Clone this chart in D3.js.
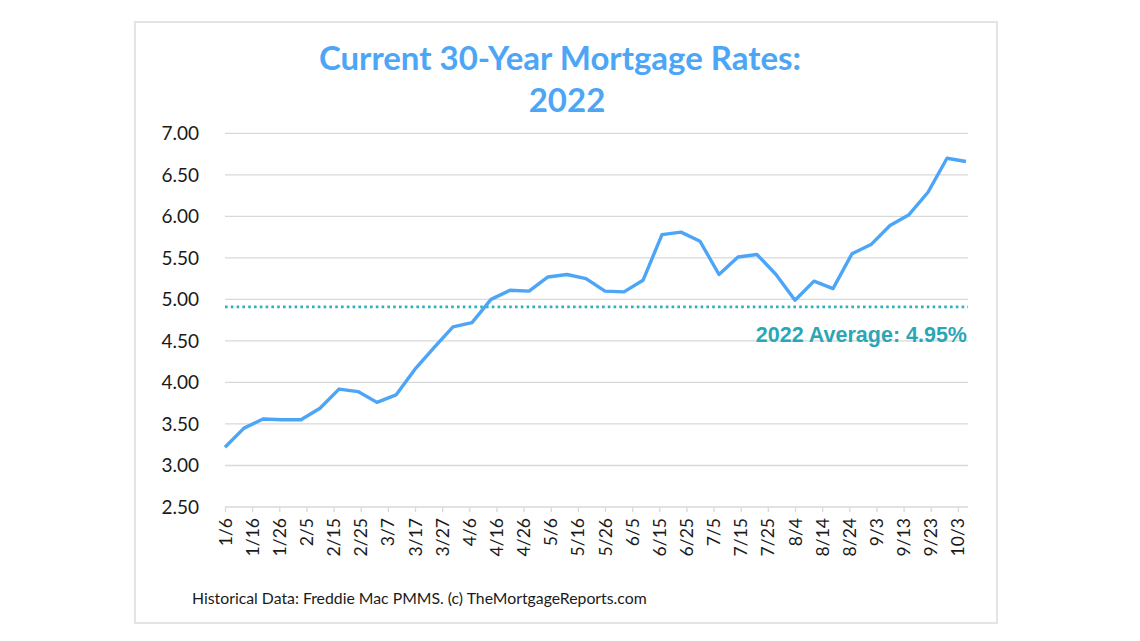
<!DOCTYPE html>
<html>
<head>
<meta charset="utf-8">
<script src="https://cdn.jsdelivr.net/npm/d3@7"></script>
<style>
  body { margin: 0; background: #fff; }
  svg { display: block; }
</style>
</head>
<body>
<svg id="chart" width="1140" height="641"></svg>
<script>
// weekly Freddie Mac PMMS readings, 2022
const weeks = ["2022-01-06","2022-01-13","2022-01-20","2022-01-27","2022-02-03","2022-02-10",
  "2022-02-17","2022-02-24","2022-03-03","2022-03-10","2022-03-17","2022-03-24","2022-03-31",
  "2022-04-07","2022-04-14","2022-04-21","2022-04-28","2022-05-05","2022-05-12","2022-05-19",
  "2022-05-26","2022-06-02","2022-06-09","2022-06-16","2022-06-23","2022-06-30","2022-07-07",
  "2022-07-14","2022-07-21","2022-07-28","2022-08-04","2022-08-11","2022-08-18","2022-08-25",
  "2022-09-01","2022-09-08","2022-09-15","2022-09-22","2022-09-29","2022-10-06"];
const rates = [3.22,3.45,3.56,3.55,3.55,3.69,3.92,3.89,3.76,3.85,4.16,4.42,4.67,4.72,5.00,5.11,
  5.10,5.27,5.30,5.25,5.10,5.09,5.23,5.78,5.81,5.70,5.30,5.51,5.54,5.30,4.99,5.22,5.13,5.55,
  5.66,5.89,6.02,6.29,6.70,6.66];
const yTicks = [2.5,3,3.5,4,4.5,5,5.5,6,6.5,7];
const avgLine = 4.91;
const avgLabel = "2022 Average: 4.95%";

const parse = d3.timeParse("%Y-%m-%d");
const data = weeks.map((w, i) => ({ date: parse(w), rate: rates[i] }));

const svg = d3.select("#chart");
const font = "Lato, 'Open Sans', sans-serif";

// outer frame
svg.append("rect")
  .attr("x", 135).attr("y", 22).attr("width", 862).attr("height", 601)
  .attr("fill", "#fff").attr("stroke", "#e4e4e4").attr("stroke-width", 2);

const x = d3.scaleTime()
  .domain(d3.extent(data, d => d.date))
  .range([225, 966]);
const y = d3.scaleLinear().domain([2.5, 7]).range([507, 133.3]);

// gridlines
svg.append("g").selectAll("line").data(yTicks).join("line")
  .attr("x1", 225).attr("x2", 968)
  .attr("y1", d => y(d)).attr("y2", d => y(d))
  .attr("stroke", "#d9d9d9").attr("stroke-width", 1.3);

// y labels
svg.append("g").selectAll("text").data(yTicks).join("text")
  .attr("x", 199).attr("y", d => y(d)).attr("dy", "0.36em")
  .attr("text-anchor", "end")
  .attr("font-family", font).attr("font-size", 19).attr("fill", "#1a1a1a")
  .text(d3.format(".2f"));

// x axis with 10-day ticks
const tickDates = d3.timeDay.range(x.domain()[0], d3.timeDay.offset(x.domain()[1], -2), 10);
const xAxis = svg.append("g")
  .attr("transform", `translate(0,${y(2.5)})`)
  .call(d3.axisBottom(x).tickValues(tickDates).tickFormat(d3.timeFormat("%-m/%-d"))
    .tickSize(5).tickSizeOuter(0));
xAxis.select(".domain").remove();
xAxis.selectAll(".tick line").attr("stroke", "#d9d9d9").attr("stroke-width", 1.3);
xAxis.selectAll(".tick text")
  .attr("transform", "rotate(-90)")
  .attr("x", -11).attr("y", 0).attr("dy", "0.35em")
  .attr("text-anchor", "end")
  .attr("font-family", font).attr("font-size", 17.5).attr("fill", "#1a1a1a");

// average reference line
svg.append("line")
  .attr("x1", 225).attr("x2", 968)
  .attr("y1", y(avgLine)).attr("y2", y(avgLine))
  .attr("stroke", "#2eb0c2").attr("stroke-width", 2.6)
  .attr("stroke-dasharray", "2.6,3.2");

svg.append("text")
  .attr("x", 967).attr("y", 342)
  .attr("text-anchor", "end")
  .attr("font-family", "'Liberation Sans', Arial, sans-serif")
  .attr("font-weight", "bold").attr("font-size", 21.5)
  .attr("fill", "#2ba6b6")
  .text(avgLabel);

// rate line
svg.append("path")
  .datum(data)
  .attr("fill", "none")
  .attr("stroke", "#4da5f7")
  .attr("stroke-width", 3.4)
  .attr("stroke-linejoin", "round")
  .attr("d", d3.line().x(d => x(d.date)).y(d => y(d.rate)));

// title
const title = svg.append("text")
  .attr("x", 560).attr("text-anchor", "middle")
  .attr("font-family", font).attr("font-weight", "bold").attr("font-size", 33)
  .attr("fill", "#4da6f5");
title.append("tspan").attr("x", 560).attr("y", 70).text("Current 30-Year Mortgage Rates:");
title.append("tspan").attr("x", 567).attr("y", 112).text("2022");

// source note
svg.append("text")
  .attr("x", 192).attr("y", 604)
  .attr("font-family", font).attr("font-size", 15.8).attr("fill", "#1a1a1a")
  .text("Historical Data: Freddie Mac PMMS. (c) TheMortgageReports.com");
</script>
</body>
</html>
